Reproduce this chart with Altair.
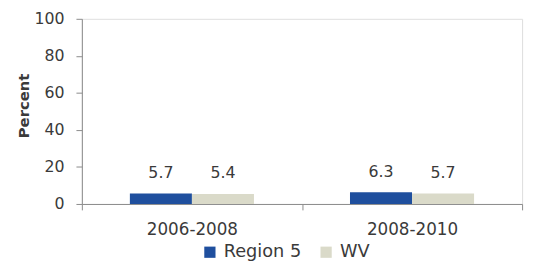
import altair as alt
import pandas as pd

periods = ["2006-2008", "2006-2008", "2008-2010", "2008-2010"]
groups = ["Region 5", "WV", "Region 5", "WV"]
values = [5.7, 5.4, 6.3, 5.7]
labels = ["5.7", "5.4", "6.3", "5.7"]
y_ticks = [0, 20, 40, 60, 80, 100]
series = ["Region 5", "WV"]
colors = ["#1f4f9e", "#dadac9"]

df = pd.DataFrame({"period": periods, "group": groups, "value": values, "label": labels})

FONT = "DejaVu Sans"
TXT = "#3a3a3a"
AX = "#8a8a8a"

x = alt.X("period:N", title=None,
          scale=alt.Scale(paddingInner=0, paddingOuter=0),
          axis=alt.Axis(labelAngle=0, tickBand="extent", domainColor=AX, tickColor=AX,
                        tickSize=6, labelPadding=12, labelFont=FONT, labelFontSize=17,
                        labelColor=TXT, grid=False))
xo = alt.XOffset("group:N", scale=alt.Scale(domain=series, paddingInner=0, paddingOuter=0.774))
y = alt.Y("value:Q", title="Percent",
          scale=alt.Scale(domain=[0, 100], nice=False),
          axis=alt.Axis(values=y_ticks, grid=False, domainColor=AX, tickColor=AX, tickSize=6,
                        labelPadding=12, labelFont=FONT, labelFontSize=16, labelColor=TXT,
                        titleFont=FONT, titleFontSize=15, titleFontWeight="bold", titleColor=TXT,
                        titleX=-59, titleY=88, titleBaseline="middle", titleAngle=270))

bars = alt.Chart(df).mark_bar(size=63).encode(
    x=x, xOffset=xo, y=y,
    color=alt.Color("group:N", scale=alt.Scale(domain=series, range=colors),
                    legend=alt.Legend(title=None, orient="none", direction="horizontal",
                                      legendX=121, legendY=228, symbolType="square",
                                      symbolSize=130, labelFont=FONT, labelFontSize=18,
                                      labelColor=TXT, columnPadding=16, labelOffset=5,
                                      symbolStrokeWidth=0)),
)

text = alt.Chart(df).mark_text(baseline="bottom", dy=-13, font=FONT, fontSize=16, color=TXT).encode(
    x=x, xOffset=xo, y=y, text="label:N"
)

chart = alt.layer(bars, text).properties(
    width=447, height=188,
    autosize=alt.AutoSizeParams(type="none"),
    padding={"left": 75, "top": 9, "right": 6, "bottom": 60},
).configure_view(stroke=None).configure(background="white")

chart.save("out.html", embed_options={"renderer": "svg", "actions": False})
